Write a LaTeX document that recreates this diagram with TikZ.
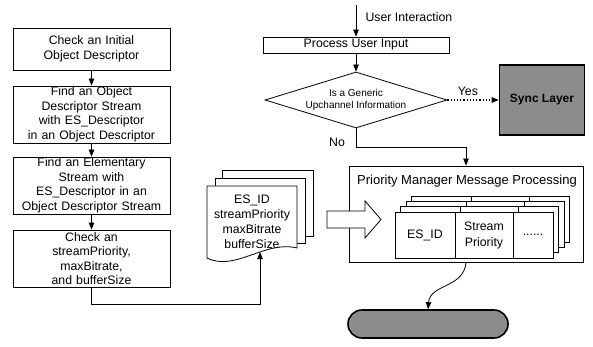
\documentclass[tikz,border=0pt]{standalone}
\usepackage{fontspec}
\setmainfont{Liberation Sans}
\usetikzlibrary{arrows.meta,shapes.geometric}

\begin{document}
\begin{tikzpicture}[%
        x=1pt, y=-1pt,
        line width=0.8pt,
        >={Triangle[length=7pt,width=5.5pt]},
        stepbox/.style={%
            draw, fill=white, inner sep=0pt,
            minimum width=157pt, minimum height=57pt,
            text width=155pt, align=center,
            node font=\fontsize{12.3}{14.5}\selectfont,
        },
        cell/.style={%
            draw, fill=white, inner sep=0pt, minimum height=46pt,
            align=center, node font=\fontsize{12.3}{16}\selectfont,
        },
        layerbox/.style={%
            draw, line width=1.6pt, fill=black!45, inner sep=0pt,
            node font=\bfseries\fontsize{12}{14}\selectfont,
        },
        plain/.style={%
            node font=\fontsize{12.3}{14}\selectfont,
        },
    ]

    \useasboundingbox (0,0) rectangle (593,347);

    % left column
    \node (check_initial) at (91.5,49) [stepbox, minimum height=42pt] {Check an Initial\\Object Descriptor};
    \node (find_od) at (91.5,114.5) [stepbox] {Find an Object\\Descriptor Stream\\with ES\_Descriptor\\in an Object Descriptor};
    \node (find_es) at (91.5,185.5) [stepbox] {Find an Elementary\\Stream with\\ES\_Descriptor in an\\Object Descriptor Stream};
    \node (check_priority) at (91.5,258.5) [stepbox] {Check an\\streamPriority,\\maxBitrate,\\and bufferSize};

    \draw [->] (check_initial) -- (find_od);
    \draw [->] (find_od) -- (find_es);
    \draw [->] (find_es) -- (check_priority);

    % descriptor pages
    \draw [fill=white] (222,170) rectangle (313,236);
    \draw [fill=white] (215,178) rectangle (305,243);
    \draw [fill=white] (207,186) -- (297,186) -- (297,248)
        .. controls (265,240) and (235,272) .. (207,258) -- cycle;
    \node (es_info) at (252,221.5) [align=center, node font=\fontsize{12.3}{15}\selectfont] {ES\_ID\\streamPriority\\maxBitrate\\bufferSize};
    \coordinate (es_info_bottom) at (260,252);
    \coordinate (left_turn) at (91.5,304);

    \draw [->] (check_priority.south) -- (check_priority.south |- left_turn) -| (es_info_bottom);

    % top of the right column
    \coordinate (ui_start) at (356,5);
    \node (process_input) at (356,45) [draw, fill=white, inner sep=0pt, minimum width=186pt, minimum height=16pt, plain] {Process User Input};
    \node [anchor=west, plain] at (361,17) {User Interaction};
    \draw [->] (ui_start) -- (process_input);

    \node (upchannel) at (356,100) [diamond, draw, inner sep=0pt, minimum width=182pt, minimum height=56pt,
        label={[align=center, node font=\fontsize{10}{12}\selectfont]center:Is a Generic\\Upchannel Information}] {};
    \draw [->] (process_input) -- (upchannel);

    \node (sync_layer) at (542,100) [layerbox, minimum width=85pt, minimum height=70pt] {Sync Layer};
    \draw [->, dotted, line width=1.2pt] (upchannel.east) -- node [above, pos=0.4, plain] {Yes} (sync_layer.west);

    % priority manager
    \node (priority_manager) at (466,214) [draw, inner sep=0pt, minimum width=234pt, minimum height=96pt] {};
    \node [node font=\fontsize{13}{15}\selectfont] at (467,181) {Priority Manager Message Processing};

    \coordinate (no_turn) at (356,147);
    \node [plain] at (337,142) {No};
    \draw [->] (upchannel.south) -- (no_turn) -| (priority_manager.north);

    \foreach \i in {3,2,1} {%
        \begin{scope}[shift={(5.5*\i,-5.3*\i)}]
            \draw [fill=white] (395,212) rectangle (553,258);
            \draw (455,212) -- (455,258);
            \draw (513,212) -- (513,258);
        \end{scope}
    }
    \node (es_id_cell) at (425,235) [cell, minimum width=60pt] {ES\_ID};
    \node (priority_cell) at (484,235) [cell, minimum width=58pt] {Stream\\Priority};
    \node (more_cell) at (533,235) [cell, minimum width=40pt] {......};

    % push arrow
    \draw [fill=white] (327,211) -- (365,211) -- (365,201) -- (381,219.5)
        -- (365,238) -- (365,228) -- (327,228) -- cycle;

    % lower layer
    \node (lower_layer) at (428,324) [layerbox, rounded corners=14pt, minimum width=160pt, minimum height=28pt] {};
    \draw [->] (priority_manager.south) .. controls (464,288) and (430,284) .. (lower_layer.north);

\end{tikzpicture}
\end{document}
